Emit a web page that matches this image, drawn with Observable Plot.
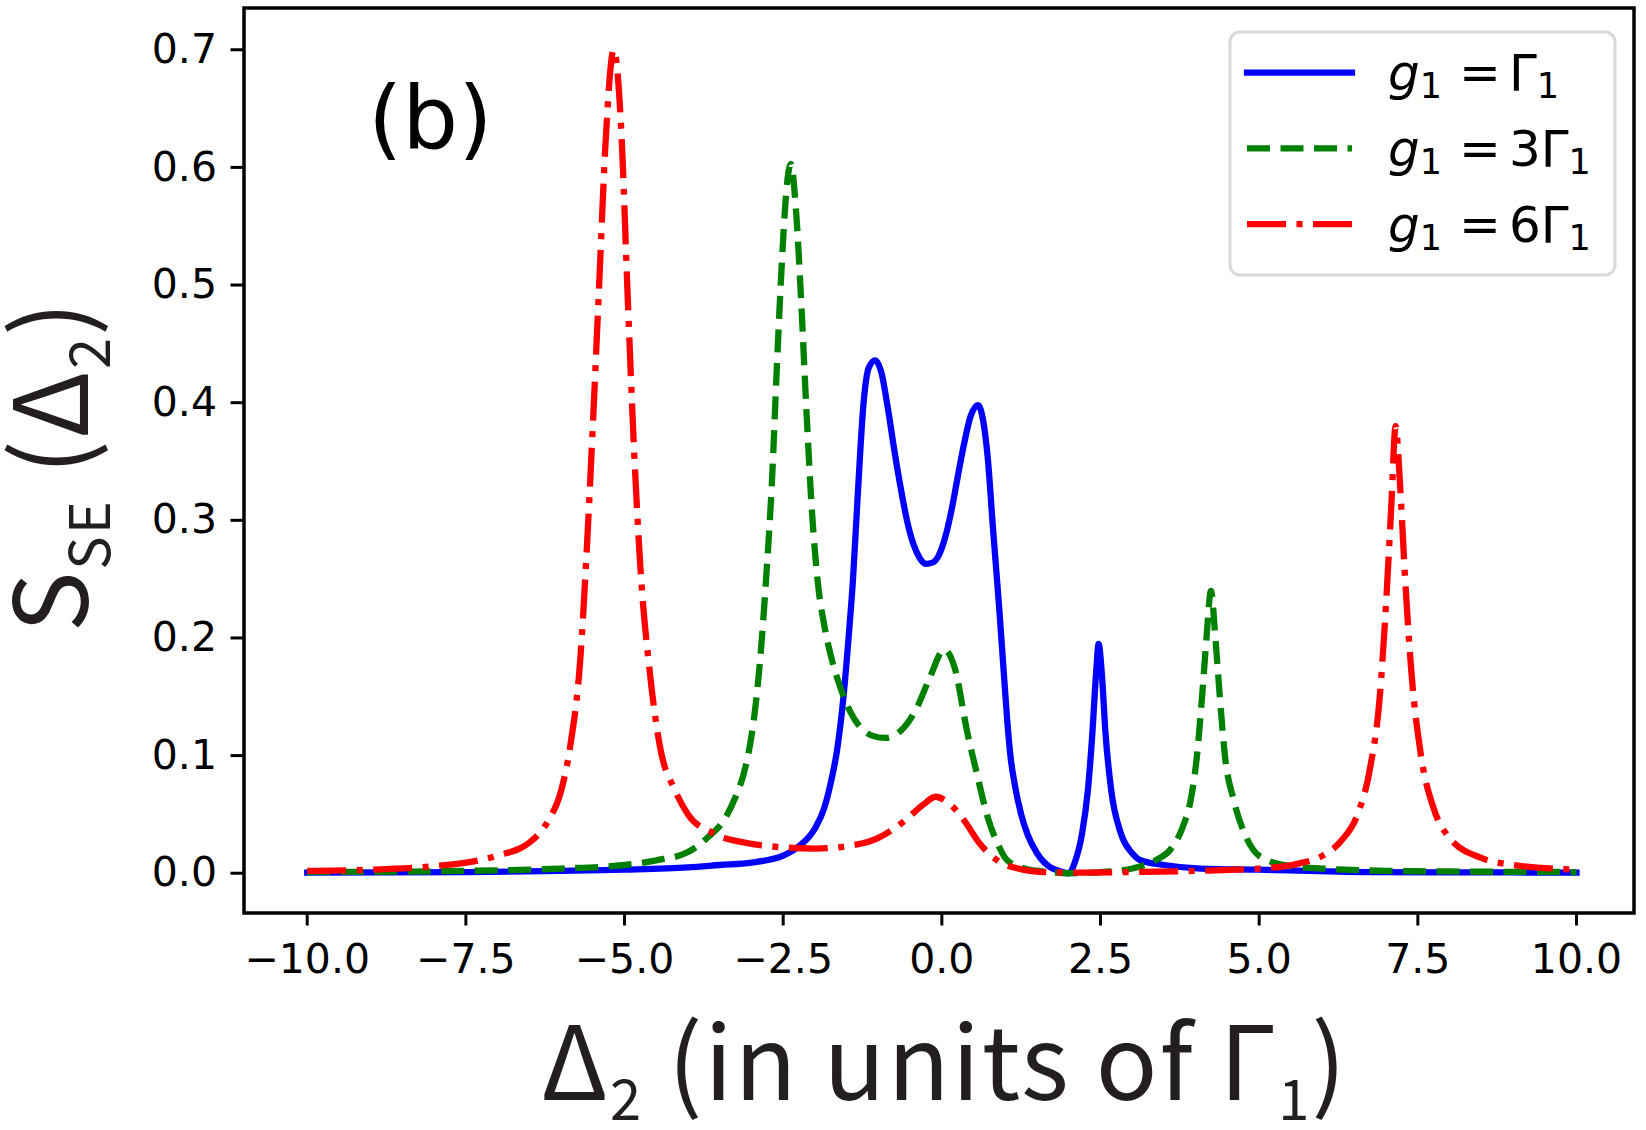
<!DOCTYPE html>
<html><head><meta charset="utf-8">
<script src="https://cdn.jsdelivr.net/npm/d3@7"></script>
<script src="https://cdn.jsdelivr.net/npm/@observablehq/plot@0.6"></script>
<style>body{margin:0;background:#fff} #chart{width:1646px;height:1130px}</style>
</head><body><div id="chart"></div>
<script>
// ---- data ----
const blueX = [-10, -7.5, -5, -4, -3.5, -3, -2.5, -2.25, -2, -1.85, -1.75, -1.65, -1.55, -1.47, -1.4, -1.33, -1.23, -1.15, -1.05, -0.95, -0.85, -0.75, -0.65, -0.55, -0.45, -0.35, -0.25, -0.15, -0.05, 0.05, 0.15, 0.25, 0.35, 0.45, 0.57, 0.65, 0.72, 0.81, 0.9, 0.97, 1.03, 1.08, 1.15, 1.25, 1.35, 1.5, 1.71, 1.85, 2.0, 2.1, 2.21, 2.3, 2.37, 2.43, 2.47, 2.52, 2.58, 2.67, 2.82, 3.0, 3.13, 3.5, 4.08, 5, 6.7, 8, 10];
const blueY = [0.0005, 0.001, 0.003, 0.005, 0.007, 0.009, 0.015, 0.023, 0.038, 0.056, 0.077, 0.105, 0.15, 0.2, 0.25, 0.317, 0.402, 0.43, 0.436, 0.425, 0.395, 0.36, 0.328, 0.3, 0.28, 0.268, 0.263, 0.264, 0.27, 0.285, 0.308, 0.337, 0.365, 0.388, 0.398, 0.385, 0.355, 0.29, 0.228, 0.175, 0.13, 0.1, 0.075, 0.05, 0.033, 0.017, 0.005, 0.002, 0.0, 0.01, 0.034, 0.07, 0.118, 0.17, 0.195, 0.17, 0.118, 0.07, 0.034, 0.017, 0.011, 0.007, 0.004, 0.003, 0.001, 0.0008, 0.0005];

const greenX = [-10, -7.5, -6, -5, -4.5, -4, -3.7, -3.4, -3.25, -3.12, -3.02, -2.93, -2.85, -2.77, -2.68, -2.6, -2.52, -2.45, -2.38, -2.3, -2.22, -2.14, -2.05, -1.95, -1.85, -1.75, -1.6, -1.45, -1.3, -1.1, -0.89, -0.65, -0.4, -0.2, 0.04, 0.2, 0.4, 0.55, 0.72, 0.88, 1.03, 1.3, 1.7, 2.0, 2.5, 3.0, 3.4, 3.6, 3.8, 3.92, 4.02, 4.1, 4.17, 4.24, 4.31, 4.38, 4.46, 4.6, 4.8, 5.02, 5.5, 6, 7, 8, 10];
const greenY = [0.001, 0.002, 0.004, 0.007, 0.011, 0.018, 0.03, 0.048, 0.065, 0.085, 0.11, 0.145, 0.19, 0.25, 0.33, 0.43, 0.52, 0.58, 0.603, 0.565, 0.49, 0.4, 0.31, 0.245, 0.21, 0.185, 0.158, 0.138, 0.125, 0.117, 0.115, 0.121, 0.14, 0.165, 0.19, 0.175, 0.12, 0.085, 0.048, 0.025, 0.011, 0.004, 0.001, 0.0, 0.001, 0.004, 0.012, 0.02, 0.04, 0.062, 0.1, 0.15, 0.2, 0.24, 0.2, 0.15, 0.1, 0.062, 0.03, 0.014, 0.006, 0.004, 0.002, 0.0015, 0.001];

const redX = [-10, -9, -8, -7.5, -7, -6.5, -6.2, -6.0, -5.85, -5.7, -5.6, -5.5, -5.4, -5.3, -5.17, -5.05, -4.95, -4.85, -4.75, -4.6, -4.45, -4.2, -4.0, -3.6, -3.0, -2.5, -2.0, -1.5, -1.0, -0.6, -0.3, -0.1, 0.1, 0.35, 0.6, 0.9, 1.2, 1.6, 2.2, 3, 4, 5, 5.6, 6.0, 6.3, 6.55, 6.75, 6.9, 7.0, 7.08, 7.15, 7.22, 7.3, 7.4, 7.55, 7.75, 8.0, 8.5, 9.0, 10];
const redY = [0.002, 0.003, 0.006, 0.009, 0.015, 0.026, 0.045, 0.07, 0.11, 0.18, 0.27, 0.38, 0.5, 0.62, 0.70, 0.63, 0.49, 0.36, 0.26, 0.17, 0.11, 0.07, 0.05, 0.034, 0.025, 0.022, 0.021, 0.023, 0.03, 0.044, 0.058, 0.065, 0.06, 0.045, 0.025, 0.01, 0.004, 0.001, 0.0005, 0.001, 0.002, 0.004, 0.008, 0.015, 0.028, 0.05, 0.09, 0.15, 0.23, 0.31, 0.38, 0.33, 0.25, 0.17, 0.1, 0.055, 0.03, 0.013, 0.007, 0.003];

const xTicks = [-10, -7.5, -5, -2.5, 0, 2.5, 5, 7.5, 10];
const yTicks = [0, 0.1, 0.2, 0.3, 0.4, 0.5, 0.6, 0.7];
const seriesMult = ["", "3", "6"];          // legend: g1 = {mult}Γ1
const seriesColors = ["#0000ff", "#008000", "#ff0000"];
const seriesDash = [null, "23,10.5", "39,10.5,6,10.5"];

// ---- layout ----
const W = 1646, H = 1130;
const mL = 243.5, mR = 12.5, mT = 7.5, mB = 217.5;
const LW = 6.3;

const toRows = (xs, ys) => xs.map((x, i) => ({x, y: ys[i]}));
const series = [toRows(blueX, blueY), toRows(greenX, greenY), toRows(redX, redY)];

const fmt = d3.format(".1f");

const plot = Plot.plot({
  width: W, height: H,
  marginLeft: mL, marginRight: mR, marginTop: mT, marginBottom: mB,
  style: {background: "white", color: "black", fontFamily: "DejaVu Sans"},
  x: {domain: [-10.996, 10.906]},
  y: {domain: [-0.0338, 0.7355]},
  marks: [
    ...series.map((rows, i) => Plot.line(rows, {
      x: "x", y: "y", stroke: seriesColors[i], strokeWidth: LW,
      curve: "monotone-x",
      strokeDasharray: seriesDash[i] || undefined,
      strokeLinecap: seriesDash[i] ? "butt" : "square",
      strokeLinejoin: "round"
    })),
    Plot.frame({stroke: "black", strokeWidth: 3.5}),
    Plot.axisX({ticks: xTicks, tickFormat: fmt, tickSize: 13, tickPadding: 18, fontSize: 41, strokeWidth: 3, label: null}),
    Plot.axisY({ticks: yTicks, tickFormat: fmt, tickSize: 13, tickPadding: 14, fontSize: 41, strokeWidth: 3, label: null})
  ]
});
document.getElementById("chart").appendChild(plot);

const svg = d3.select(plot);
const labelColor = "#231f20";
const labelFont = "'Noto Sans CJK SC', 'Noto Sans', sans-serif";
const cx = (mL + W - mR) / 2;
const cy = (mT + H - mB) / 2;

// x label: Δ2 (in units of Γ1)
const xl = svg.append("text")
  .attr("x", cx + 6).attr("y", H - 30)
  .attr("text-anchor", "middle")
  .attr("font-family", labelFont).attr("font-weight", 400)
  .attr("font-size", 102).attr("letter-spacing", 2).attr("fill", labelColor);
xl.append("tspan").text("Δ");
xl.append("tspan").attr("font-size", 56).attr("dy", 20).text("2");
xl.append("tspan").attr("dy", -20).text(" (in units of Γ");
xl.append("tspan").attr("font-size", 56).attr("dy", 20).text("1");
xl.append("tspan").attr("dy", -20).text(")");

// y label: SSE (Δ2)
const yl = svg.append("text")
  .attr("transform", `translate(88,${cy + 6}) rotate(-90)`)
  .attr("text-anchor", "middle")
  .attr("font-family", labelFont).attr("font-weight", 400)
  .attr("font-size", 102).attr("letter-spacing", 2).attr("fill", labelColor);
yl.append("tspan").text("S");
yl.append("tspan").attr("font-size", 56).attr("dy", 22).text("SE");
yl.append("tspan").attr("dy", -22).text(" (Δ");
yl.append("tspan").attr("font-size", 56).attr("dy", 22).text("2");
yl.append("tspan").attr("dy", -22).text(")");

// panel tag
svg.append("text").attr("x", 368).attr("y", 148).attr("text-anchor", "start")
  .attr("font-family", "DejaVu Sans").attr("font-size", 88).attr("fill", "black").text("(b)");

// legend
const lg = svg.append("g").attr("text-anchor", "start");
lg.append("rect").attr("x", 1230).attr("y", 32).attr("width", 385).attr("height", 243)
  .attr("rx", 10).attr("fill", "white").attr("fill-opacity", 0.8)
  .attr("stroke", "#d9d9d9").attr("stroke-width", 3);
seriesMult.forEach((m, i) => {
  const yRow = 72.7 + i * 75.7;
  lg.append("line").attr("x1", 1247).attr("x2", 1352).attr("y1", yRow).attr("y2", yRow)
    .attr("stroke", seriesColors[i]).attr("stroke-width", LW)
    .attr("stroke-dasharray", seriesDash[i])
    .attr("stroke-linecap", seriesDash[i] ? "butt" : "square");
  const t = lg.append("text").attr("x", 1388).attr("y", yRow + 17.5)
    .attr("font-family", "DejaVu Sans").attr("font-size", 50).attr("fill", "black");
  t.append("tspan").attr("font-style", "italic").text("g");
  t.append("tspan").attr("font-size", 35).attr("dy", 8).text("1");
  t.append("tspan").attr("dy", -8).attr("dx", 17).text("=");
  t.append("tspan").attr("dx", 8).text(m + "Γ");
  t.append("tspan").attr("font-size", 35).attr("dy", 8).text("1");
});
</script>
</body></html>
